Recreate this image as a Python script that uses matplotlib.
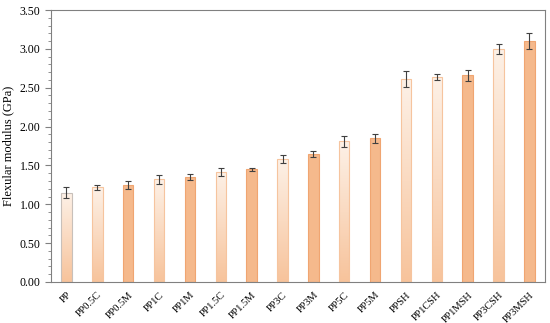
import numpy as np
import matplotlib.pyplot as plt
from matplotlib.colors import LinearSegmentedColormap

labels = ["PP", "PP0.5C", "PP0.5M", "PP1C", "PP1M", "PP1.5C", "PP1.5M", "PP3C",
          "PP3M", "PP5C", "PP5M", "PPSH", "PP1CSH", "PP1MSH", "PP3CSH", "PP3MSH"]
modulus = [1.15, 1.22, 1.25, 1.32, 1.35, 1.42, 1.45, 1.58,
           1.65, 1.81, 1.85, 2.61, 2.64, 2.66, 3.00, 3.10]
errors = [0.07, 0.03, 0.05, 0.06, 0.04, 0.05, 0.02, 0.05,
          0.04, 0.07, 0.06, 0.10, 0.04, 0.07, 0.06, 0.105]
gradient = [True, True, False, True, False, True, False, True,
            False, True, False, True, True, False, True, False]

plt.rcParams["font.family"] = "Liberation Serif"

fig = plt.figure(figsize=(5.5, 3.23), dpi=100)
ax = fig.add_axes([0.0927, 0.127, 0.898, 0.842])

x = np.arange(len(labels))
orange = "#F5B98C"
cmap = LinearSegmentedColormap.from_list("fade", ["#FDF1E7", "#F7C39B"])
grad_img = np.linspace(0, 1, 256).reshape(-1, 1)

bars = ax.bar(x, modulus, width=0.34, color=orange, edgecolor="#F0A571", linewidth=0.8, zorder=2)
for i, (b, g) in enumerate(zip(bars, gradient)):
    if g:
        b.set_facecolor("none")
        if i == 0:
            b.set_edgecolor("#C8C0BA")
        else:
            b.set_edgecolor("#F6C49E")
        im = ax.imshow(grad_img[::-1][::-1], cmap=cmap.reversed(), aspect="auto",
                       extent=(b.get_x(), b.get_x() + b.get_width(), 0, b.get_height()),
                       origin="lower", zorder=1.5)
        im.set_clip_path(b)

ax.errorbar(x, modulus, yerr=errors, fmt="none", ecolor="#404040", elinewidth=0.8,
            capsize=2, capthick=0.8, zorder=3)

ax.set_xlim(-0.5, len(labels) - 0.5)
ax.set_ylim(0, 3.5)
ax.set_yticks(np.arange(0, 3.51, 0.5))
ax.set_yticks(np.arange(0, 3.51, 0.1), minor=True)
ax.set_yticklabels([f"{v:.2f}" for v in np.arange(0, 3.51, 0.5)], fontsize=8.5)
ax.set_xticks(x)
ax.set_xticklabels(labels, rotation=45, ha="right", rotation_mode="anchor", fontsize=7.5)
ax.tick_params(axis="x", length=0, pad=6)
ax.tick_params(axis="y", which="major", length=4, color="#808080")
ax.tick_params(axis="y", which="minor", length=2, color="#808080")
ax.set_ylabel("Flexular modulus (GPa)", fontsize=9)
for s in ax.spines.values():
    s.set_color("#808080")
    s.set_linewidth(0.8)

fig.savefig("out.png", dpi=100)
